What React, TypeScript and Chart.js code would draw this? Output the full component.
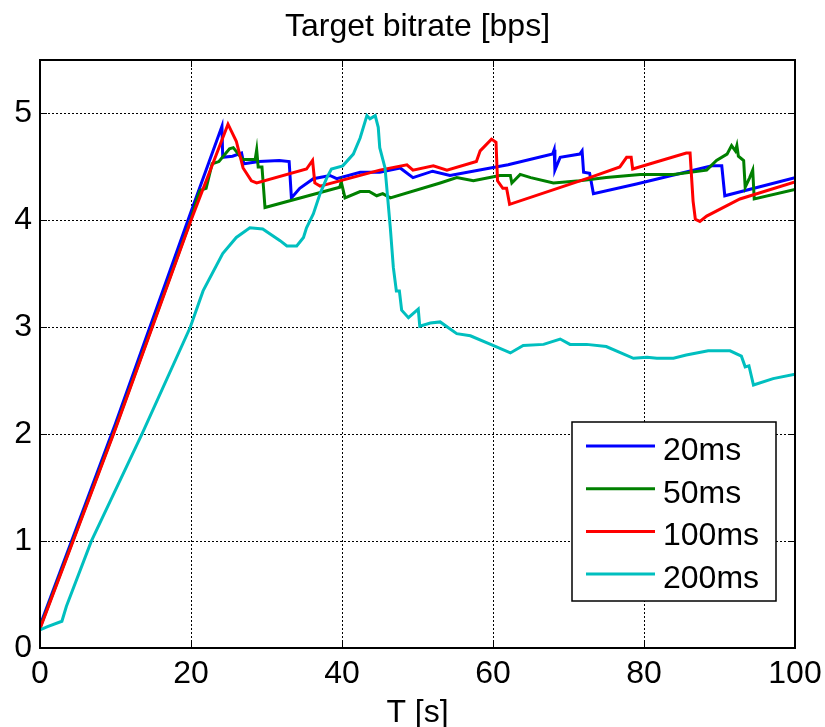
import React, { useEffect, useRef } from "react";
import { Chart, registerables } from "chart.js";

Chart.register(...registerables);

const TITLE = "Target bitrate [bps]";
const X_TITLE = "T [s]";
const SERIES_LABELS = ["20ms", "50ms", "100ms", "200ms"];
const SERIES_COLORS = ["#0000FF", "#008000", "#FF0000", "#00BFBF"];
const X_TICKS = [0, 20, 40, 60, 80, 100];
const Y_TICKS = [0, 1, 2, 3, 4, 5];

// [T seconds, bitrate]
const s20ms: [number, number][] = [
  [0, 0.21], [10, 2.1], [20, 4.08], [24.1, 4.88], [24.2, 4.59], [25.5, 4.6], [26.7, 4.63], [27.0, 4.53],
  [29, 4.55], [31.7, 4.56], [33.0, 4.55], [33.3, 4.21], [34.4, 4.3], [36.2, 4.39],
  [38.4, 4.42], [39.3, 4.39], [42.4, 4.45], [45, 4.45], [47.7, 4.49], [49.4, 4.4],
  [52, 4.46], [54.3, 4.42], [62, 4.52], [67.9, 4.62], [68.1, 4.66], [68.2, 4.47],
  [68.9, 4.59], [71.5, 4.62], [71.8, 4.65], [72.0, 4.45], [72.8, 4.44], [73.3, 4.25],
  [79, 4.34], [89, 4.51], [90.3, 4.51], [90.7, 4.23], [100, 4.4],
];

const s50ms: [number, number][] = [
  [0, 0.19], [10, 2.06], [20, 4.01], [20.8, 4.2], [21.2, 4.28], [22, 4.3], [22.8, 4.53], [23.7, 4.55],
  [25.1, 4.67], [25.6, 4.68], [26.5, 4.6], [26.9, 4.57], [28.5, 4.57], [28.7, 4.66],
  [28.9, 4.5], [29.4, 4.5], [29.8, 4.12], [39.7, 4.31], [39.9, 4.36], [40.4, 4.21],
  [42.4, 4.27], [43.6, 4.27], [44.6, 4.23], [45.4, 4.25], [46.4, 4.21], [53, 4.35],
  [55.2, 4.4], [57.4, 4.37], [60.9, 4.42], [62.3, 4.42], [62.5, 4.35], [63.6, 4.43],
  [65, 4.4], [68, 4.35], [71.5, 4.37], [75, 4.4], [79.5, 4.43], [83.9, 4.43],
  [88.3, 4.47], [89.6, 4.56], [91, 4.62], [91.6, 4.7], [92.1, 4.65], [92.3, 4.7],
  [92.5, 4.6], [93.2, 4.56], [93.4, 4.31], [94, 4.4], [94.4, 4.47], [94.6, 4.2],
  [100, 4.29],
];

const s100ms: [number, number][] = [
  [0, 0.18], [10, 2.05], [20, 4.0], [24.9, 4.9], [26, 4.74], [26.9, 4.49], [28, 4.37],
  [28.7, 4.35], [35.3, 4.48], [36.1, 4.56], [36.4, 4.35], [37.1, 4.32], [45, 4.47],
  [48.6, 4.52], [49.4, 4.47], [52.1, 4.51], [53.9, 4.47], [57.8, 4.55], [58.3, 4.65],
  [59.8, 4.76], [60.4, 4.73], [60.6, 4.37], [61.3, 4.3], [61.8, 4.3], [62.2, 4.15],
  [72.8, 4.4], [76.8, 4.5], [77.7, 4.59], [78.3, 4.59], [78.5, 4.48], [85.6, 4.63],
  [86.1, 4.63], [86.5, 4.18], [86.8, 4.01], [87.4, 3.99], [88.3, 4.04], [92.7, 4.2],
  [100, 4.36],
];

const s200ms: [number, number][] = [
  [0, 0.17], [1, 0.2], [2.9, 0.25], [3.5, 0.39], [6.8, 1.0], [13.5, 2.0], [19.9, 3.0],
  [21.6, 3.34], [24.2, 3.69], [26, 3.84], [27.8, 3.93], [29.5, 3.92], [31.8, 3.81],
  [32.7, 3.76], [34, 3.76], [34.9, 3.84], [35.3, 3.93], [36.2, 4.06], [37.1, 4.25],
  [38, 4.4], [38.6, 4.48], [40.1, 4.51], [41.5, 4.62], [42.4, 4.77], [43.3, 4.98],
  [43.7, 4.95], [44.4, 4.98], [44.8, 4.87], [45, 4.68], [45.7, 4.49], [46.4, 3.93],
  [46.8, 3.56], [47.2, 3.34], [47.6, 3.34], [47.9, 3.16], [48.8, 3.09], [50.1, 3.17],
  [50.3, 3.01], [51.7, 3.04], [53, 3.05], [55.2, 2.94], [57, 2.92], [60, 2.83],
  [62.3, 2.76], [64, 2.83], [66.7, 2.84], [68.9, 2.89], [70.2, 2.84], [72.4, 2.84],
  [75, 2.82], [78.6, 2.71], [80.4, 2.72], [81.7, 2.71], [83.9, 2.71], [85.6, 2.74],
  [88.5, 2.78], [91.4, 2.78], [92.9, 2.73], [93.4, 2.63], [93.9, 2.64], [94.5, 2.46],
  [97.1, 2.52], [100, 2.56],
];

const SERIES = [s20ms, s50ms, s100ms, s200ms];
const FONT = "Arial, 'Liberation Sans', sans-serif";

const framePlugin = {
  id: "matlabFrame",
  afterDraw(chart: any) {
    const { ctx, chartArea: a, scales } = chart;
    ctx.save();
    // inward tick marks
    ctx.strokeStyle = "#000";
    ctx.lineWidth = 1;
    const tl = 7;
    X_TICKS.forEach((t) => {
      const x = Math.round(scales.x.getPixelForValue(t)) + 0.5;
      ctx.beginPath();
      ctx.moveTo(x, a.bottom); ctx.lineTo(x, a.bottom - tl);
      ctx.moveTo(x, a.top); ctx.lineTo(x, a.top + tl);
      ctx.stroke();
    });
    Y_TICKS.forEach((t) => {
      const y = Math.round(scales.y.getPixelForValue(t)) + 0.5;
      ctx.beginPath();
      ctx.moveTo(a.left, y); ctx.lineTo(a.left + tl, y);
      ctx.moveTo(a.right, y); ctx.lineTo(a.right - tl, y);
      ctx.stroke();
    });
    // box
    ctx.lineWidth = 2;
    ctx.strokeRect(a.left, a.top, a.right - a.left, a.bottom - a.top);

    // title
    ctx.fillStyle = "#000";
    ctx.font = `32px ${FONT}`;
    ctx.textAlign = "center";
    ctx.textBaseline = "alphabetic";
    ctx.fillText(TITLE, (a.left + a.right) / 2, a.top - 24);
    ctx.fillText(X_TITLE, (a.left + a.right) / 2, a.bottom + 74);

    // legend
    const lx = a.right - 223, ly = a.bottom - 226, lw = 204, lh = 179;
    ctx.fillStyle = "#fff";
    ctx.fillRect(lx, ly, lw, lh);
    ctx.lineWidth = 1.5;
    ctx.strokeStyle = "#000";
    ctx.strokeRect(lx, ly, lw, lh);
    ctx.textAlign = "left";
    SERIES_LABELS.forEach((lab, i) => {
      const yb = ly + 38 + i * 42.7;
      const yl = yb - 14;
      ctx.strokeStyle = SERIES_COLORS[i];
      ctx.lineWidth = 3;
      ctx.beginPath();
      ctx.moveTo(lx + 14, yl); ctx.lineTo(lx + 83, yl);
      ctx.stroke();
      ctx.fillStyle = "#000";
      ctx.fillText(lab, lx + 91, yb);
    });
    ctx.restore();
  },
};

export default function App() {
  const ref = useRef<HTMLCanvasElement>(null);
  useEffect(() => {
    if (!ref.current) return;
    const chart = new Chart(ref.current, {
      type: "line",
      data: {
        datasets: SERIES.map((s, i) => ({
          label: SERIES_LABELS[i],
          data: s.map(([x, y]) => ({ x, y })),
          borderColor: SERIES_COLORS[i],
          backgroundColor: SERIES_COLORS[i],
          borderWidth: 3,
          pointRadius: 0,
          tension: 0,
          fill: false,
          order: SERIES.length - 1 - i,
        })),
      },
      options: {
        responsive: false,
        animation: false,
        layout: { padding: { top: 60, right: 30, left: 0, bottom: 0 } },
        plugins: { legend: { display: false }, title: { display: false }, tooltip: { enabled: false } },
        scales: {
          x: {
            type: "linear",
            min: 0,
            max: 100,
            afterFit: (s: any) => { s.height = 79; s.paddingLeft = 0; s.paddingRight = 0; },
            afterBuildTicks: (s: any) => { s.ticks = X_TICKS.map((v) => ({ value: v })); },
            ticks: { color: "#000", font: { size: 32, family: FONT }, padding: 7, maxRotation: 0 },
            grid: { color: "#000", lineWidth: 1, drawTicks: false },
            border: { display: false, dash: [2, 2] },
          },
          y: {
            type: "linear",
            min: 0,
            max: 5.5,
            afterFit: (s: any) => { s.width = 40; s.paddingTop = 0; s.paddingBottom = 0; },
            afterBuildTicks: (s: any) => { s.ticks = Y_TICKS.map((v) => ({ value: v })); },
            ticks: { color: "#000", font: { size: 32, family: FONT }, padding: 8 },
            grid: { color: "#000", lineWidth: 1, drawTicks: false },
            border: { display: false, dash: [2, 2] },
          },
        },
      },
      plugins: [framePlugin],
    });
    return () => chart.destroy();
  }, []);
  return (
    <div style={{ position: "absolute", left: 0, top: 0, width: 825, height: 727, background: "#fff" }}>
      <canvas ref={ref} width={825} height={727} />
    </div>
  );
}
